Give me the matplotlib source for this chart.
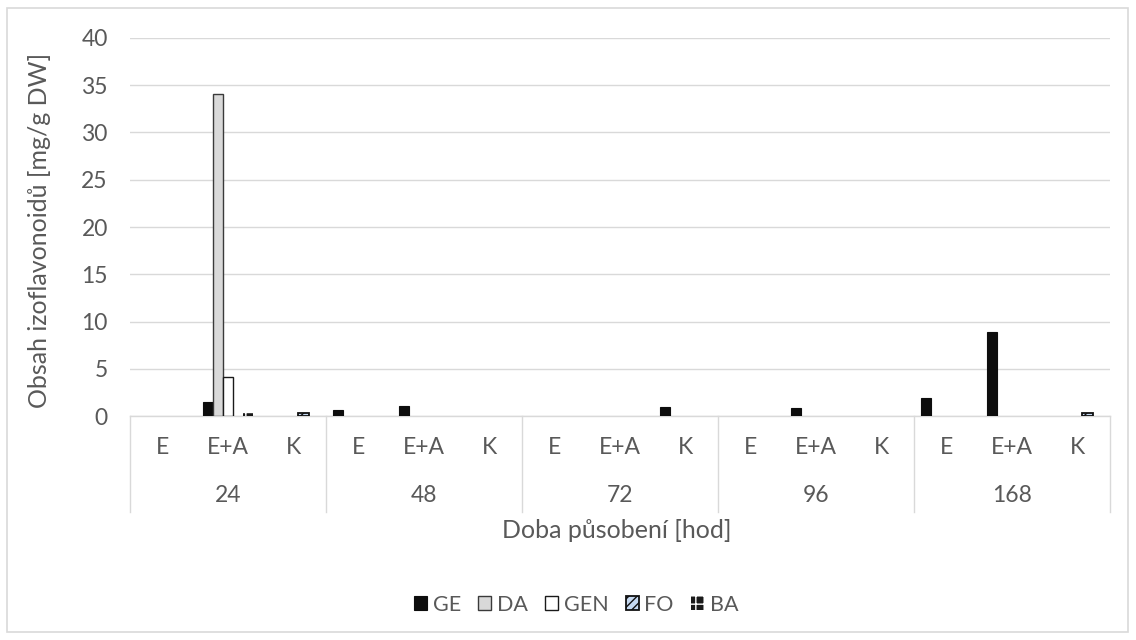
import matplotlib
matplotlib.use("Agg")
import matplotlib.pyplot as plt
import matplotlib.transforms as mtransforms
from matplotlib.patches import Rectangle
from matplotlib.lines import Line2D
import numpy as np

plt.rcParams['font.family'] = ['Lato', 'DejaVu Sans']

# ---- data ----
groups = ["24", "48", "72", "96", "168"]
subcats = ["E", "E+A", "K"]
series_names = ["GE", "DA", "GEN", "FO", "BA"]
GE  = [0, 1.55, 0,   0.7, 1.1, 0,   0, 0, 1.0,   0, 0.85, 0,   1.93, 8.9, 0]
DA  = [0, 34.1, 0,   0, 0, 0,       0, 0, 0,     0, 0, 0,      0, 0, 0]
GEN = [0, 4.15, 0,   0, 0, 0,       0, 0, 0,     0, 0, 0,      0, 0, 0]
FO  = [0, 0, 0.3,    0, 0, 0,       0, 0, 0,     0, 0, 0,      0, 0, 0.3]
BA  = [0, 0.3, 0,    0, 0, 0,       0, 0, 0,     0, 0, 0,      0, 0, 0]
yticks = [0, 5, 10, 15, 20, 25, 30, 35, 40]
ylabel = "Obsah izoflavonoidů [mg/g DW]"
xlabel = "Doba působení [hod]"

series = [GE, DA, GEN, FO, BA]
TXT = "#595959"
GRID = "#d9d9d9"
FS_TICK = 16.5
FS_TITLE = 18

fig = plt.figure(figsize=(11.36, 6.4), dpi=100)
W, H = 1136, 640
left, right, top, bottom = 130, 1110, 37.7, 416.3
ax = fig.add_axes([left / W, 1 - bottom / H, (right - left) / W, (bottom - top) / H])

# figure border
fig.patches.append(Rectangle((7 / W, 8 / H), (1128 - 7) / W, (632 - 8) / H,
                             transform=fig.transFigure, fill=False,
                             edgecolor=GRID, linewidth=1.2))

ncat = len(groups) * len(subcats)
x = np.arange(ncat)
w = 0.155
styles = [
    dict(facecolor="#0d0d0d", edgecolor="#0d0d0d", linewidth=0.8),
    dict(facecolor="#d9d9d9", edgecolor="#3a3a3a", linewidth=1.0),
    dict(facecolor="white", edgecolor="#1a1a1a", linewidth=1.0),
    dict(facecolor="#c6d9f1", edgecolor="#111111", linewidth=1.3, hatch="////"),
    None,
]
handles = []
for k, (vals, name) in enumerate(zip(series, series_names)):
    vals = np.asarray(vals, dtype=float)
    nz = vals > 0
    xs = x[nz] + (k - 2) * w
    if name == "BA":
        plt.rcParams['hatch.color'] = "white"
        bc = ax.bar(xs, vals[nz], width=w, facecolor="#1a1a1a",
                    hatch="++", label=name, zorder=3)
    else:
        bc = ax.bar(xs, vals[nz], width=w, label=name, zorder=3, **styles[k])
    handles.append(bc)

ax.set_xlim(-0.5, ncat - 0.5)
ax.set_ylim(0, 40)
ax.set_yticks(yticks)
ax.set_yticklabels([str(t) for t in yticks], color=TXT, fontsize=FS_TICK)
ax.tick_params(axis='y', length=0, pad=16)
ax.yaxis.grid(True, color=GRID, linewidth=1.0, zorder=0)
ax.set_axisbelow(True)
for s in ["top", "right", "left"]:
    ax.spines[s].set_visible(False)
ax.spines["bottom"].set_color(GRID)
ax.spines["bottom"].set_linewidth(1.0)
ax.set_xticks([])

axh = bottom - top
trans = mtransforms.blended_transform_factory(ax.transData, ax.transAxes)
for i in range(ncat):
    ax.text(x[i], -(447.7 - bottom) / axh, subcats[i % 3], transform=trans,
            ha="center", va="center", fontsize=FS_TICK, color=TXT)
for g, lab in enumerate(groups):
    ax.text(g * 3 + 1, -(495.7 - bottom) / axh, lab, transform=trans,
            ha="center", va="center", fontsize=FS_TICK, color=TXT)
for b in range(len(groups) + 1):
    xb = b * 3 - 0.5
    ax.add_line(Line2D([xb, xb], [0, -(511.7 - bottom) / axh], transform=trans,
                       color=GRID, linewidth=1.0, clip_on=False))

fig.text(617 / W, 1 - 531 / H, xlabel, ha="center", va="center",
         fontsize=FS_TITLE, color=TXT)
fig.text(40 / W, 1 - 230 / H, ylabel, rotation=90, ha="center", va="center",
         fontsize=FS_TITLE, color=TXT)

leg = fig.legend(handles=handles, labels=series_names, loc="center",
                 bbox_to_anchor=(576 / W, 1 - 605 / H), ncol=5, frameon=False,
                 fontsize=15.5, handlelength=0.62, handleheight=0.62,
                 handletextpad=0.25, columnspacing=0.8, labelcolor=TXT)

fig.savefig("out.png", dpi=100)
